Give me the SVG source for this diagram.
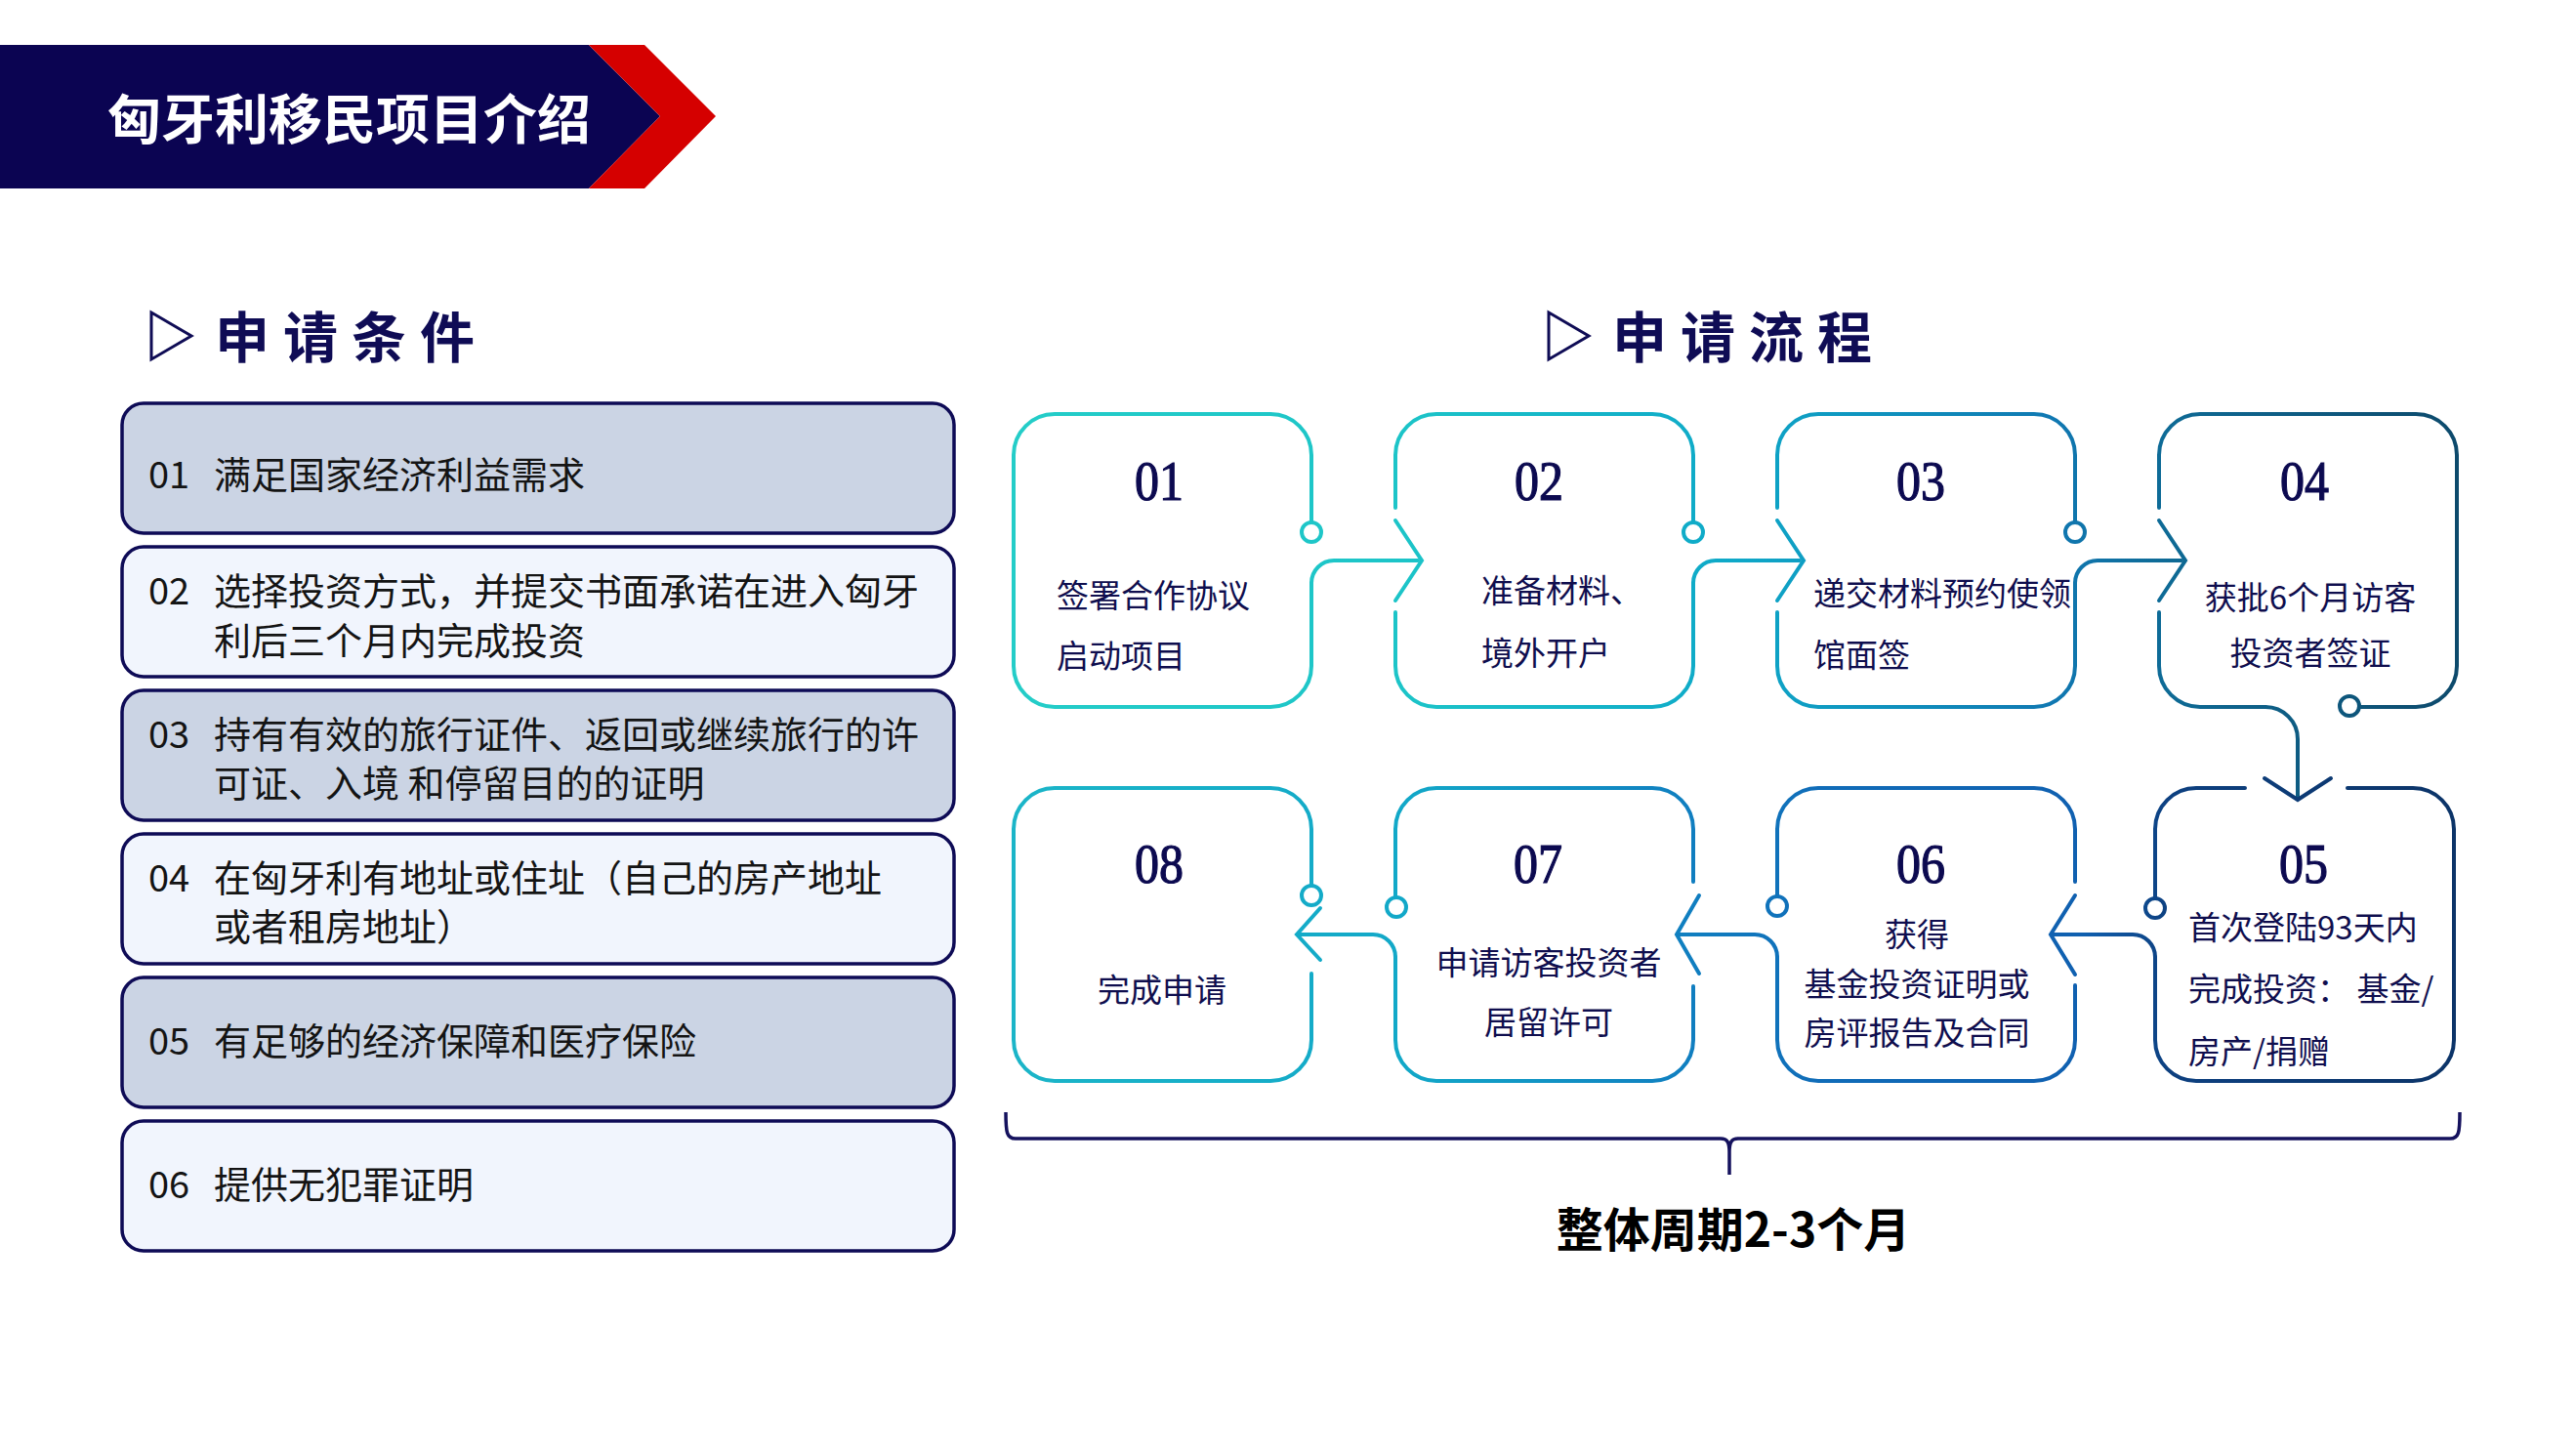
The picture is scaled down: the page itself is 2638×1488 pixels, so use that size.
<svg xmlns="http://www.w3.org/2000/svg" width="2638" height="1488" viewBox="0 0 2638 1488">
<defs>
<linearGradient id="gT" gradientUnits="userSpaceOnUse" x1="1038" y1="0" x2="2516" y2="0">
<stop offset="0" stop-color="#24cdc8"/>
<stop offset="0.27" stop-color="#1cc4c8"/>
<stop offset="0.5" stop-color="#0ea8c8"/>
<stop offset="0.72" stop-color="#1078b2"/>
<stop offset="0.8" stop-color="#0e6a95"/>
<stop offset="1" stop-color="#0d4a6c"/>
</linearGradient>
<linearGradient id="gB" gradientUnits="userSpaceOnUse" x1="1038" y1="0" x2="2516" y2="0">
<stop offset="0" stop-color="#1bb5c8"/>
<stop offset="0.27" stop-color="#12a8c8"/>
<stop offset="0.47" stop-color="#107ec0"/>
<stop offset="0.56" stop-color="#106cb8"/>
<stop offset="0.74" stop-color="#1060b0"/>
<stop offset="0.8" stop-color="#0d4080"/>
<stop offset="1" stop-color="#0c3468"/>
</linearGradient>
</defs>
<style>
text{font-family:"Noto Sans CJK SC","Noto Sans",sans-serif}
.lbox{stroke:#0e0b56;stroke-width:3.5}
.dark{fill:#cbd4e4}
.light{fill:#f1f5fd}
.ltxt{font-size:38px;fill:#141414}
.pt{fill:none;stroke:url(#gT);stroke-width:4;stroke-linecap:round}
.pb{fill:none;stroke:url(#gB);stroke-width:4;stroke-linecap:round}
.dt{fill:#fff;stroke:url(#gT);stroke-width:4}
.db{fill:#fff;stroke:url(#gB);stroke-width:4}
.num{font-family:"Liberation Serif","Times New Roman",serif;font-size:56px;fill:#0c0a50;stroke:#0c0a50;stroke-width:1.2;text-anchor:middle}
.ptx{font-size:33px;fill:#0f0e4e}
.mid{text-anchor:middle}
.head{font-size:56px;font-weight:bold;letter-spacing:14px;fill:#0f0c55}
.tri{fill:none;stroke:#0f0c55;stroke-width:3}
</style>
<rect width="2638" height="1488" fill="#fff"/>

<g id="header">
<polygon points="0,46 603,46 676,119 603,193 0,193" fill="#0b0452"/>
<polygon points="603,46 660,46 733,119 660,193 603,193 676,119" fill="#d50000"/>
<text x="110" y="142" font-size="55" font-weight="bold" fill="#fff">匈牙利移民项目介绍</text>
</g>

<g id="heading-conditions">
<polygon class="tri" points="155,320 196,344 155,368"/>
<text class="head" x="220" y="366">申请条件</text>
</g>
<g id="heading-process">
<polygon class="tri" points="1586,320 1627,344 1586,368"/>
<text class="head" x="1651" y="366">申请流程</text>
</g>

<g id="cond-01">
<rect class="lbox dark" x="125" y="413" width="852" height="133" rx="22"/>
<text class="ltxt" x="152" y="500">01</text>
<text class="ltxt" x="219" y="500">满足国家经济利益需求</text>
</g>
<g id="cond-02">
<rect class="lbox light" x="125" y="560" width="852" height="133" rx="22"/>
<text class="ltxt" x="152" y="619">02</text>
<text class="ltxt" x="219" y="619">选择投资方式，并提交书面承诺在进入匈牙</text>
<text class="ltxt" x="219" y="670">利后三个月内完成投资</text>
</g>
<g id="cond-03">
<rect class="lbox dark" x="125" y="707" width="852" height="133" rx="22"/>
<text class="ltxt" x="152" y="766">03</text>
<text class="ltxt" x="219" y="766">持有有效的旅行证件、返回或继续旅行的许</text>
<text class="ltxt" x="219" y="816">可证、入境 和停留目的的证明</text>
</g>
<g id="cond-04">
<rect class="lbox light" x="125" y="854" width="852" height="133" rx="22"/>
<text class="ltxt" x="152" y="913">04</text>
<text class="ltxt" x="219" y="913">在匈牙利有地址或住址（自己的房产地址</text>
<text class="ltxt" x="219" y="963">或者租房地址）</text>
</g>
<g id="cond-05">
<rect class="lbox dark" x="125" y="1001" width="852" height="133" rx="22"/>
<text class="ltxt" x="152" y="1080">05</text>
<text class="ltxt" x="219" y="1080">有足够的经济保障和医疗保险</text>
</g>
<g id="cond-06">
<rect class="lbox light" x="125" y="1148" width="852" height="133" rx="22"/>
<text class="ltxt" x="152" y="1227">06</text>
<text class="ltxt" x="219" y="1227">提供无犯罪证明</text>
</g>

<g id="step-01">
<path class="pt" d="M1343,535 L1343,466 A42,42 0 0 0 1301,424 L1080,424 A42,42 0 0 0 1038,466 L1038,682 A42,42 0 0 0 1080,724 L1301,724 A42,42 0 0 0 1343,682 L1343,597"/>
<circle class="dt" cx="1343" cy="545" r="10"/>
<text class="num" x="1187" y="512" textLength="50" lengthAdjust="spacingAndGlyphs">01</text>
<text class="ptx" x="1082" y="622">签署合作协议</text>
<text class="ptx" x="1082" y="684">启动项目</text>
</g>
<g id="step-02">
<path class="pt" d="M1734,535 L1734,466 A42,42 0 0 0 1692,424 L1471,424 A42,42 0 0 0 1429,466 L1429,520 M1429,627 L1429,682 A42,42 0 0 0 1471,724 L1692,724 A42,42 0 0 0 1734,682 L1734,597"/>
<circle class="dt" cx="1734" cy="545" r="10"/>
<text class="num" x="1576" y="512" textLength="50" lengthAdjust="spacingAndGlyphs">02</text>
<text class="ptx" x="1517" y="617">准备材料、</text>
<text class="ptx" x="1517" y="681">境外开户</text>
</g>
<g id="step-03">
<path class="pt" d="M2125,535 L2125,466 A42,42 0 0 0 2083,424 L1862,424 A42,42 0 0 0 1820,466 L1820,520 M1820,627 L1820,682 A42,42 0 0 0 1862,724 L2083,724 A42,42 0 0 0 2125,682 L2125,597"/>
<circle class="dt" cx="2125" cy="545" r="10"/>
<text class="num" x="1967" y="512" textLength="50" lengthAdjust="spacingAndGlyphs">03</text>
<text class="ptx" x="1857" y="620">递交材料预约使领</text>
<text class="ptx" x="1857" y="683">馆面签</text>
</g>
<g id="step-04">
<path class="pt" d="M2211,520 L2211,466 A42,42 0 0 1 2253,424 L2474,424 A42,42 0 0 1 2516,466 L2516,682 A42,42 0 0 1 2474,724 L2416,724 M2211,627 L2211,682 A42,42 0 0 0 2253,724 L2320,724"/>
<circle class="dt" cx="2406" cy="723" r="10"/>
<text class="num" x="2360" y="512" textLength="50" lengthAdjust="spacingAndGlyphs">04</text>
<text class="ptx mid" x="2366" y="624">获批6个月访客</text>
<text class="ptx mid" x="2366" y="681">投资者签证</text>
</g>
<g id="step-05">
<path class="pb" d="M2299,807 L2249,807 A42,42 0 0 0 2207,849 L2207,920 M2404,807 L2471,807 A42,42 0 0 1 2513,849 L2513,1065 A42,42 0 0 1 2471,1107 L2249,1107 A42,42 0 0 1 2207,1065 L2207,980"/>
<circle class="db" cx="2207" cy="930" r="10"/>
<text class="num" x="2359" y="904" textLength="50" lengthAdjust="spacingAndGlyphs">05</text>
<text class="ptx" x="2241" y="962">首次登陆93天内</text>
<text class="ptx" x="2241" y="1025">完成投资： 基金/</text>
<text class="ptx" x="2241" y="1089">房产/捐赠</text>
</g>
<g id="step-06">
<path class="pb" d="M2125,903 L2125,849 A42,42 0 0 0 2083,807 L1862,807 A42,42 0 0 0 1820,849 L1820,918 M2125,1009 L2125,1065 A42,42 0 0 1 2083,1107 L1862,1107 A42,42 0 0 1 1820,1065 L1820,980"/>
<circle class="db" cx="1820" cy="928" r="10"/>
<text class="num" x="1967" y="904" textLength="50" lengthAdjust="spacingAndGlyphs">06</text>
<text class="ptx mid" x="1963" y="969">获得</text>
<text class="ptx mid" x="1963" y="1020">基金投资证明或</text>
<text class="ptx mid" x="1963" y="1070">房评报告及合同</text>
</g>
<g id="step-07">
<path class="pb" d="M1734,903 L1734,849 A42,42 0 0 0 1692,807 L1471,807 A42,42 0 0 0 1429,849 L1429,919 M1734,1010 L1734,1065 A42,42 0 0 1 1692,1107 L1471,1107 A42,42 0 0 1 1429,1065 L1429,980"/>
<circle class="db" cx="1430" cy="929" r="10"/>
<text class="num" x="1575" y="904" textLength="50" lengthAdjust="spacingAndGlyphs">07</text>
<text class="ptx mid" x="1586" y="998">申请访客投资者</text>
<text class="ptx mid" x="1586" y="1059">居留许可</text>
</g>
<g id="step-08">
<path class="pb" d="M1343,907 L1343,849 A42,42 0 0 0 1301,807 L1080,807 A42,42 0 0 0 1038,849 L1038,1065 A42,42 0 0 0 1080,1107 L1301,1107 A42,42 0 0 0 1343,1065 L1343,997"/>
<circle class="db" cx="1343" cy="917" r="10"/>
<text class="num" x="1187" y="904" textLength="50" lengthAdjust="spacingAndGlyphs">08</text>
<text class="ptx mid" x="1190" y="1026">完成申请</text>
</g>

<g id="connectors">
<path class="pt" d="M1343,597 A23,23 0 0 1 1366,574 L1452,574"/>
<path class="pt" d="M1429,533 L1456,574 L1429,615"/>
<path class="pt" d="M1734,597 A23,23 0 0 1 1757,574 L1843,574"/>
<path class="pt" d="M1820,533 L1847,574 L1820,615"/>
<path class="pt" d="M2125,597 A23,23 0 0 1 2148,574 L2234,574"/>
<path class="pt" d="M2211,533 L2238,574 L2211,615"/>
<path class="pt" d="M2320,724 A33,33 0 0 1 2353,757 L2353,816"/>
<path class="pb" d="M2319,797 L2353,819 L2387,797"/>
<path class="pb" d="M2207,980 A23,23 0 0 0 2184,957 L2102,957"/>
<path class="pb" d="M2125,917 L2100,957 L2125,998"/>
<path class="pb" d="M1820,980 A23,23 0 0 0 1797,957 L1719,957"/>
<path class="pb" d="M1740,917 L1717,957 L1740,997"/>
<path class="pb" d="M1429,980 A23,23 0 0 0 1406,957 L1330,957"/>
<path class="pb" d="M1352,930 L1328,957 L1352,983"/>
</g>

<g id="duration">
<path d="M1030,1139 C1030,1160 1031,1166 1040,1166 L1762,1166 C1769,1166 1771,1170 1771,1180 L1771,1203 M1771,1180 C1771,1170 1773,1166 1780,1166 L2509,1166 C2518,1166 2519,1160 2519,1139" fill="none" stroke="#15125e" stroke-width="3.5"/>
<text x="1775" y="1277" font-size="48" font-weight="bold" text-anchor="middle" fill="#000">整体周期2-3个月</text>
</g>
</svg>
